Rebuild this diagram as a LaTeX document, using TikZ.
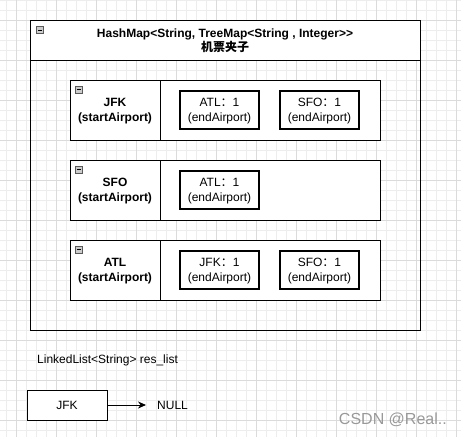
\documentclass[tikz,border=0pt]{standalone}
\usepackage{fontspec}
\setmainfont{Liberation Sans}
\newfontfamily\cjk{Noto Sans CJK SC}
\usetikzlibrary{arrows.meta}

\begin{document}
\begin{tikzpicture}[x=1pt, y=-1pt,
  box/.style={draw, line width=1pt, fill=white, inner sep=0pt},
  cell/.style={box, minimum height=60pt, align=center, text depth=0pt, font=\fontsize{12}{14.5}\selectfont\bfseries},
  entry/.style={draw, line width=2pt, fill=white, inner sep=0pt, minimum width=79pt, minimum height=38pt, align=center, text depth=0pt, font=\fontsize{12}{15}\selectfont},
  fold/.style={draw=gray!70!black, fill=gray!40, line width=0.8pt, minimum size=7pt, inner sep=0pt,
    path picture={\draw[black, line width=1pt] ([xshift=1.5pt]path picture bounding box.west) -- ([xshift=-1.5pt]path picture bounding box.east);}},
  minor/.style={black!7, line width=0.8pt}, major/.style={black!14, line width=0.8pt},
  plain/.style={anchor=west, inner sep=0pt, font=\fontsize{12}{14}\selectfont}]
\useasboundingbox (0,0) rectangle (461,437);
\fill[white] (0,0) rectangle (461,437);
\foreach \x in {6.5,16.5,...,456.5} \draw[minor] (\x,0) -- (\x,437);
\foreach \y in {0,10,...,430} \draw[minor] (0,\y) -- (461,\y);
\foreach \x in {16.5,56.5,...,456.5} \draw[major] (\x,0) -- (\x,437);
\foreach \y in {20,60,...,420} \draw[major] (0,\y) -- (461,\y);

\node[box, fill=none, minimum width=390pt, minimum height=310pt] (map) at (225,175) {};
\node[box, minimum width=390pt, minimum height=40pt, align=center, text depth=0pt, font=\fontsize{12}{14}\selectfont\bfseries] (head) at (225,40) {HashMap<String, TreeMap<String , Integer>{}>\\{\cjk 机票夹子}};
\node[fold] (fold0) at (40,30) {};

\node[cell, minimum width=90pt] (jfk) at (115,110) {JFK\\(startAirport)};
\node[box, minimum width=220pt, minimum height=60pt] (jfkto) at (270,110) {};
\node[fold] (fold1) at (79,89.5) {};
\node[entry] (jfkatl) at (219.5,110) {ATL{\cjk ：}1\\(endAirport)};
\node[entry] (jfksfo) at (319.5,110) {SFO{\cjk ：}1\\(endAirport)};

\node[cell, minimum width=90pt] (sfo) at (115,190) {SFO\\(startAirport)};
\node[box, minimum width=220pt, minimum height=60pt] (sfoto) at (270,190) {};
\node[fold] (fold2) at (79,169.5) {};
\node[entry] (sfoatl) at (219.5,190) {ATL{\cjk ：}1\\(endAirport)};

\node[cell, minimum width=90pt] (atl) at (115,270) {ATL\\(startAirport)};
\node[box, minimum width=220pt, minimum height=60pt] (atlto) at (270,270) {};
\node[fold] (fold3) at (79,249.5) {};
\node[entry] (atljfk) at (219.5,270) {JFK{\cjk ：}1\\(endAirport)};
\node[entry] (atlsfo) at (319.5,270) {SFO{\cjk ：}1\\(endAirport)};

\node[plain] (reslist) at (37,360) {LinkedList<String> res\_list};
\node[box, minimum width=80pt, minimum height=30pt, font=\fontsize{12}{14}\selectfont] (first) at (67,405) {JFK};
\coordinate (tip) at (146,405);
\node[plain] (null) at (157,405) {NULL};
\draw[line width=1pt, -{Stealth[length=8pt, width=7pt]}] (first) -- (tip);

\node[anchor=east, inner sep=0pt, text=black!40, font=\fontsize{16}{16}\selectfont] (mark) at (447,420) {CSDN @Real..};
\end{tikzpicture}
\end{document}
